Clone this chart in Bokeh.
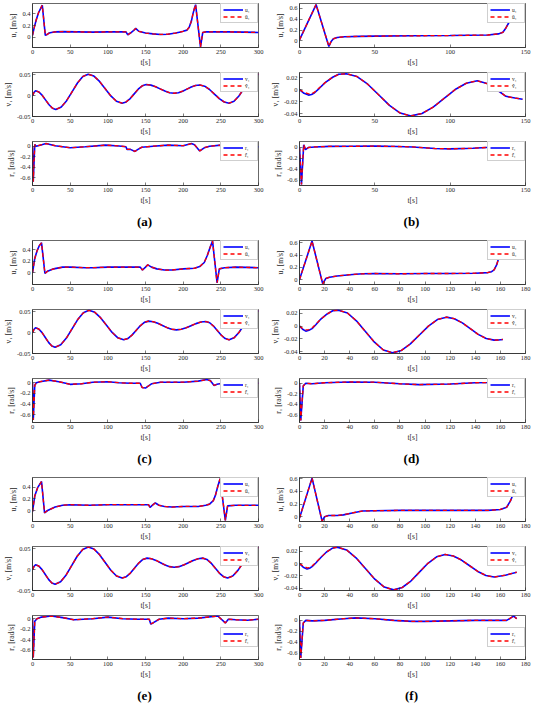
from bokeh.plotting import figure
from bokeh.models import Range1d, FixedTicker, Label
from bokeh.layouts import column, row
from bokeh.embed import file_html
from bokeh.resources import INLINE

FONT = "Liberation Serif"
BLUE = "#0000ff"
RED = "#ff0000"
INK = "#262626"

# ---------------- panel (a) ----------------
UA_T = [0, 2, 5, 8, 11, 13, 17, 20, 22, 25, 30, 40, 60, 80, 100, 120, 124, 126.5, 130, 134, 137, 141, 150, 160, 170, 180, 190, 195, 200, 205, 208, 211, 213, 215, 216.5, 223, 226, 230, 240, 260, 280, 300]
UA = [0.03, 0.15, 0.30, 0.42, 0.50, 0.55, 0.03, 0.05, 0.07, 0.08, 0.09, 0.095, 0.09, 0.085, 0.09, 0.09, 0.09, 0.04, 0.07, 0.11, 0.15, 0.10, 0.07, 0.055, 0.045, 0.05, 0.07, 0.085, 0.10, 0.12, 0.17, 0.28, 0.40, 0.50, 0.56, -0.17, 0.08, 0.09, 0.09, 0.09, 0.085, 0.08]
VA_T = [0, 2, 4, 8.5, 13, 17.5, 22, 26.5, 31, 38.2, 45.3, 52.5, 59.7, 66.8, 74, 81.5, 89, 96.5, 104, 111.5, 119, 124.3, 129.7, 135, 140.3, 145.7, 151, 157.2, 163.3, 169.5, 175.7, 181.8, 188, 193.7, 199.3, 205, 210.7, 216.3, 222, 228.5, 235, 241.5, 248, 254.5, 261, 267.5, 274, 280.5, 287, 293.5, 300]
VA = [0.0, 0.008, 0.012, 0.009, 0.0008, -0.0105, -0.0218, -0.030, -0.033, -0.0273, -0.0118, 0.0095, 0.0308, 0.0463, 0.052, 0.0473, 0.0345, 0.017, -0.0005, -0.0133, -0.018, -0.015, -0.0068, 0.0045, 0.0158, 0.024, 0.027, 0.0256, 0.0218, 0.0165, 0.0113, 0.0074, 0.006, 0.0073, 0.011, 0.016, 0.021, 0.0247, 0.026, 0.0231, 0.015, 0.004, -0.007, -0.015, -0.018, -0.0133, -0.0005, 0.017, 0.0345, 0.0473, 0.052]
RA_T = [0, 1, 3, 5, 10, 18, 30, 50, 70, 97, 115, 124, 125.5, 130, 136, 140, 145, 160, 180, 200, 211, 215, 222, 228, 235, 250, 270, 290, 300]
RA = [0.0, -0.68, 0.03, 0.0, 0.02, 0.05, 0.01, -0.03, -0.01, 0.02, 0.005, -0.01, -0.06, -0.06, -0.10, -0.06, -0.02, 0.0, 0.02, 0.01, 0.05, 0.03, -0.09, -0.03, 0.0, 0.02, 0.0, -0.02, -0.01]

# ---------------- panel (b) ----------------
UB_T = [0, 11, 19.5, 21, 22.5, 25, 30, 40, 50, 75, 100, 125, 132, 135, 137, 139, 140.5, 142]
UB = [0.02, 0.67, -0.10, -0.01, 0.04, 0.065, 0.078, 0.085, 0.09, 0.095, 0.10, 0.11, 0.13, 0.16, 0.24, 0.34, 0.44, 0.52]
VB_T = [0, 3, 6, 8, 10, 13, 17, 22, 26, 31, 38.2, 45.3, 52.5, 59.7, 66.8, 74, 81.3, 88.7, 96, 103.3, 110.7, 118, 125, 131, 137, 143, 148]
VB = [0.0, -0.006, -0.009, -0.008, -0.005, 0.002, 0.012, 0.021, 0.026, 0.027, 0.0222, 0.0093, -0.0085, -0.0263, -0.0392, -0.044, -0.040, -0.0293, -0.0145, 0.0003, 0.011, 0.015, 0.010, 0.0, -0.011, -0.014, -0.016]
VB_HAT = [0.0, -0.004, -0.007, -0.007, -0.004, 0.003, 0.012, 0.021, 0.026, 0.027, 0.0222, 0.0093, -0.0085, -0.0263, -0.0392, -0.044, -0.040, -0.0293, -0.0145, 0.0003, 0.011, 0.015, 0.010, 0.0, -0.011, -0.014, -0.016]
RB_T = [0, 1.3, 2.8, 4, 6, 10, 20, 35, 50, 65, 75, 90, 100, 115, 130, 137, 140, 143, 145]
RB = [0.0, -0.68, 0.05, -0.04, 0.0, 0.01, 0.02, 0.022, 0.025, 0.018, 0.01, -0.02, -0.025, -0.015, 0.01, 0.02, 0.08, 0.03, 0.02]

# ---------------- panel (c) ----------------
UC_T = [0, 3, 6, 9, 12, 16.5, 20, 28, 40, 50, 70, 80, 100, 120, 143, 146, 150, 153, 158, 165, 175, 185, 200, 215, 222, 228, 232, 236, 239, 245, 248, 255, 270, 300]
UC = [0.0, 0.25, 0.38, 0.47, 0.52, -0.01, 0.03, 0.07, 0.10, 0.10, 0.09, 0.09, 0.10, 0.10, 0.10, 0.05, 0.10, 0.14, 0.10, 0.07, 0.05, 0.05, 0.07, 0.08, 0.11, 0.18, 0.30, 0.45, 0.55, -0.17, 0.07, 0.09, 0.10, 0.09]
VC_T = [0, 2, 4, 8.3, 12.7, 17, 21.3, 25.7, 30, 37.5, 45, 52.5, 60, 67.5, 75, 82.7, 90.3, 98, 105.7, 113.3, 121, 126.5, 132, 137.5, 143, 148.5, 154, 160.2, 166.3, 172.5, 178.7, 184.8, 191, 197.5, 204, 210.5, 217, 223.5, 230, 235.2, 240.3, 245.5, 250.7, 255.8, 261, 267.5, 274, 280.5, 287, 293.5, 300]
VC = [0.0, 0.008, 0.012, 0.0089, 0.0003, -0.0115, -0.0233, -0.0319, -0.035, -0.029, -0.0128, 0.0095, 0.0318, 0.048, 0.054, 0.0492, 0.0363, 0.0185, 0.0008, -0.0122, -0.017, -0.014, -0.0058, 0.0055, 0.0168, 0.025, 0.028, 0.0266, 0.0228, 0.0175, 0.0123, 0.0084, 0.007, 0.0083, 0.012, 0.017, 0.022, 0.0257, 0.027, 0.0241, 0.016, 0.005, -0.006, -0.014, -0.017, -0.0123, 0.0005, 0.018, 0.0355, 0.0483, 0.053]
RC_T = [0, 1, 3, 5, 10, 22, 35, 50, 65, 80, 100, 115, 130, 143, 145.5, 150, 153, 158, 170, 185, 200, 220, 231, 236, 241, 245, 255, 270, 285, 300]
RC = [0.0, -0.70, -0.05, 0.0, 0.02, 0.05, 0.02, -0.03, -0.02, 0.01, 0.02, 0.0, -0.01, -0.01, -0.09, -0.10, -0.07, -0.02, 0.01, 0.01, 0.01, 0.03, 0.06, 0.04, -0.05, -0.03, 0.0, -0.01, -0.02, -0.01]

# ---------------- panel (d) ----------------
UD_T = [0, 10, 18.5, 21, 24, 30, 40, 50, 60, 80, 100, 120, 140, 150, 153, 155, 157, 158.5, 160]
UD = [0.0, 0.63, -0.07, 0.02, 0.04, 0.06, 0.08, 0.095, 0.10, 0.095, 0.10, 0.10, 0.105, 0.115, 0.13, 0.16, 0.24, 0.34, 0.45]
VD_T = [0, 2.5, 5, 7.5, 10, 13, 17, 22, 26.5, 31, 38.2, 45.3, 52.5, 59.7, 66.8, 74, 81.2, 88.3, 95.5, 102.7, 109.8, 117, 123.3, 129.7, 136, 142.3, 148.7, 155, 158.5, 162]
VD = [0.0, -0.005, -0.008, -0.0065, -0.004, 0.002, 0.011, 0.019, 0.024, 0.025, 0.0205, 0.0083, -0.0085, -0.0253, -0.0375, -0.042, -0.0382, -0.028, -0.014, 0.0, 0.0102, 0.014, 0.0116, 0.005, -0.004, -0.013, -0.0196, -0.022, -0.0218, -0.021]
VD_HAT = [0.0, -0.004, -0.006, -0.0055, -0.003, 0.003, 0.011, 0.019, 0.024, 0.025, 0.0205, 0.0083, -0.0085, -0.0253, -0.0375, -0.042, -0.0382, -0.028, -0.014, 0.0, 0.0102, 0.014, 0.0116, 0.005, -0.004, -0.013, -0.0196, -0.022, -0.0218, -0.021]
RD_T = [0, 1, 3, 5, 10, 20, 40, 60, 80, 95, 120, 140, 155, 158, 160, 162, 163]
RD = [0.0, -0.70, -0.05, 0.0, -0.01, 0.01, 0.025, 0.02, -0.01, -0.025, -0.015, 0.01, 0.015, 0.04, 0.08, 0.04, 0.02]

# ---------------- panel (e) ----------------
UE_T = [0, 3, 7, 12, 16, 20, 30, 40, 50, 75, 100, 150, 154, 156, 160, 163, 168, 175, 185, 200, 220, 230, 235, 240, 243, 246, 249, 256, 259, 270, 300]
UE = [-0.02, 0.25, 0.40, 0.50, -0.04, 0.0, 0.06, 0.09, 0.10, 0.09, 0.10, 0.10, 0.10, 0.055, 0.10, 0.13, 0.09, 0.07, 0.06, 0.07, 0.07, 0.09, 0.11, 0.17, 0.27, 0.42, 0.55, -0.17, 0.08, 0.09, 0.09]
VE_T = [0, 2, 4, 8.3, 12.7, 17, 21.3, 25.7, 30, 37.3, 44.7, 52, 59.3, 66.7, 74, 81.5, 89, 96.5, 104, 111.5, 119, 124.5, 130, 135.5, 141, 146.5, 152, 158, 164, 170, 176, 182, 188, 194.3, 200.7, 207, 213.3, 219.7, 226, 231.5, 237, 242.5, 248, 253.5, 259, 265.8, 272.7, 279.5, 286.3, 293.2, 300]
VE = [0.0, 0.008, 0.012, 0.0089, 0.0003, -0.0115, -0.0233, -0.0319, -0.035, -0.029, -0.0125, 0.010, 0.0325, 0.049, 0.055, 0.050, 0.0363, 0.0175, -0.0013, -0.015, -0.020, -0.0168, -0.008, 0.004, 0.016, 0.0248, 0.028, 0.0265, 0.0225, 0.017, 0.0115, 0.0075, 0.006, 0.0075, 0.0115, 0.017, 0.0225, 0.0265, 0.028, 0.0248, 0.016, 0.004, -0.008, -0.0168, -0.020, -0.015, -0.0015, 0.017, 0.0355, 0.049, 0.054]
RE_T = [0, 1, 3, 6, 12, 25, 40, 55, 80, 100, 120, 140, 155, 157, 160, 168, 180, 200, 220, 240, 246, 256, 260, 270, 285, 300]
RE = [0.0, -0.73, -0.05, 0.0, 0.03, 0.05, 0.02, -0.02, 0.0, 0.03, 0.0, -0.01, -0.01, -0.10, -0.08, -0.01, 0.01, 0.0, 0.01, 0.04, 0.05, -0.08, -0.01, -0.02, -0.03, -0.01]

# ---------------- panel (f) ----------------
UF_T = [0, 10, 18, 20, 23, 30, 35, 42, 50, 60, 80, 120, 150, 160, 165, 168, 171, 174]
UF = [-0.02, 0.61, -0.07, 0.0, 0.02, 0.02, 0.03, 0.06, 0.09, 0.095, 0.10, 0.10, 0.10, 0.115, 0.15, 0.25, 0.40, 0.55]
VF_T = [0, 3, 6, 8, 10, 13, 17, 21.5, 26, 30, 37.5, 45, 52.5, 60, 67.5, 75, 81.8, 88.7, 95.5, 102.3, 109.2, 116, 122.5, 129, 135.5, 142, 148.5, 155, 164, 173]
VF = [0.0, -0.006, -0.009, -0.0075, -0.005, 0.001, 0.010, 0.019, 0.025, 0.027, 0.0223, 0.0095, -0.008, -0.0255, -0.0383, -0.043, -0.0391, -0.0285, -0.014, 0.0005, 0.0111, 0.015, 0.0125, 0.0058, -0.0035, -0.0128, -0.0195, -0.022, -0.019, -0.014]
VF_HAT = [0.0, -0.004, -0.007, -0.0065, -0.004, 0.002, 0.010, 0.019, 0.025, 0.027, 0.0223, 0.0095, -0.008, -0.0255, -0.0383, -0.043, -0.0391, -0.0285, -0.014, 0.0005, 0.0111, 0.015, 0.0125, 0.0058, -0.0035, -0.0128, -0.0195, -0.022, -0.019, -0.014]
RF_T = [0, 1, 3, 5, 10, 20, 35, 45, 60, 75, 90, 100, 120, 140, 165, 168, 170.5, 173]
RF = [0.0, -0.70, -0.05, 0.0, -0.01, 0.0, 0.03, 0.045, 0.03, 0.0, -0.02, -0.02, -0.01, 0.0, 0.0, 0.04, 0.08, 0.03]

# ---------------- axes settings ----------------
X_TICKS_300 = [0, 50, 100, 150, 200, 250, 300]
X_TICKS_150 = [0, 50, 100, 150]
X_TICKS_180 = [0, 20, 40, 60, 80, 100, 120, 140, 160, 180]
U_TICKS_A = [0, 0.2, 0.4]
U_TICKS_B = [0, 0.2, 0.4, 0.6]
V_TICKS_A = [-0.05, 0, 0.05]
V_TICKS_B = [-0.04, -0.02, 0, 0.02]
R_TICKS = [-0.6, -0.4, -0.2, 0]

U_LABEL = "u\u2081 [m/s]"
V_LABEL = "v\u2081 [m/s]"
R_LABEL = "r\u2081 [rad/s]"
U_NAMES = ["u\u2081", "\u00fb\u2081"]
V_NAMES = ["v\u2081", "v\u0302\u2081"]
R_NAMES = ["r\u2081", "r\u0302\u2081"]
X_LABEL = "t[s]"


def fmt(v):
    return "%g" % v


def sub_fig(t, y, th, yh, xr, xt, yr, yt, ylab, names, rb, loc):
    p = figure(frame_width=226, frame_height=44, min_border_left=30,
               min_border_right=rb, min_border_top=3, min_border_bottom=21,
               x_range=Range1d(*xr), y_range=Range1d(*yr),
               toolbar_location=None, output_backend="svg")
    p.line(t, y, line_color=BLUE, line_width=1.6, legend_label=names[0])
    p.line(th, yh, line_color=RED, line_width=1.3, line_dash="4 3",
           legend_label=names[1])
    p.grid.visible = False
    p.outline_line_color = INK
    p.outline_line_width = 0.7
    p.background_fill_color = "white"
    p.border_fill_color = "white"
    p.xaxis.ticker = FixedTicker(ticks=xt)
    p.yaxis.ticker = FixedTicker(ticks=yt)
    p.xaxis.major_label_overrides = {v: fmt(v) for v in xt}
    p.yaxis.major_label_overrides = {v: fmt(v) for v in yt}
    p.xaxis.axis_label = X_LABEL
    p.yaxis.axis_label = ylab
    for ax in (p.xaxis, p.yaxis):
        ax.major_tick_in = 3
        ax.major_tick_out = 0
        ax.minor_tick_line_color = None
        ax.major_tick_line_color = INK
        ax.major_tick_line_width = 0.6
        ax.axis_line_color = INK
        ax.axis_line_width = 0.7
        ax.major_label_text_font = FONT
        ax.major_label_text_font_size = "6.5px"
        ax.major_label_text_color = INK
        ax.major_label_standoff = 2
        ax.axis_label_text_font = FONT
        ax.axis_label_text_font_size = "7.5px"
        ax.axis_label_text_font_style = "normal"
        ax.axis_label_text_color = INK
        ax.axis_label_standoff = 1
    lg = p.legend[0]
    lg.location = loc
    lg.margin = 0
    lg.padding = 2
    lg.spacing = 0
    lg.glyph_width = 20
    lg.glyph_height = 7
    lg.label_height = 7
    lg.label_width = 10
    lg.label_standoff = 2
    lg.label_text_font = FONT
    lg.label_text_font_size = "5.5px"
    lg.label_text_color = INK
    lg.border_line_color = "#a0a0a0"
    lg.border_line_width = 0.6
    lg.background_fill_alpha = 1.0
    return p


def label_fig(text, w):
    p = figure(width=w, height=30, min_border=0, x_range=Range1d(0, 1),
               y_range=Range1d(0, 1), toolbar_location=None,
               output_backend="svg", x_axis_type=None, y_axis_type=None)
    p.grid.visible = False
    p.outline_line_color = None
    p.add_layout(Label(x=0.5, y=0.55, text=text, text_align="center",
                       text_baseline="middle", text_font=FONT,
                       text_font_size="13px", text_font_style="bold",
                       text_color="black"))
    return p


def block(name, u, v, r, xr, xt, uyr, uyt, vyr, vyt, ryr, rloc, rb, w):
    pu = sub_fig(u[0], u[1], u[0], u[1], xr, xt, uyr, uyt, U_LABEL, U_NAMES, rb, "top_right")
    pv = sub_fig(v[0], v[1], v[0], v[2], xr, xt, vyr, vyt, V_LABEL, V_NAMES, rb, "top_right")
    pr = sub_fig(r[0], r[1], r[0], r[1], xr, xt, ryr, R_TICKS, R_LABEL, R_NAMES, rb, rloc)
    return column(pu, pv, pr, label_fig(name, w))


LW, RW = 9, 13
WL, WR = 30 + 226 + LW, 30 + 226 + RW

ba = block("(a)", (UA_T, UA), (VA_T, VA, VA), (RA_T, RA), (0, 300), X_TICKS_300,
           (-0.18, 0.58), U_TICKS_A, (-0.05, 0.056), V_TICKS_A, (-0.75, 0.09), "top_right", LW, WL)
bb = block("(b)", (UB_T, UB), (VB_T, VB, VB_HAT), (RB_T, RB), (0, 150), X_TICKS_150,
           (-0.12, 0.69), U_TICKS_B, (-0.045, 0.029), V_TICKS_B, (-0.70, 0.11), "top_right", RW, WR)
bc = block("(c)", (UC_T, UC), (VC_T, VC, VC), (RC_T, RC), (0, 300), X_TICKS_300,
           (-0.20, 0.56), U_TICKS_A, (-0.05, 0.056), V_TICKS_A, (-0.75, 0.08), "top_right", LW, WL)
bd = block("(d)", (UD_T, UD), (VD_T, VD, VD_HAT), (RD_T, RD), (0, 180), X_TICKS_180,
           (-0.08, 0.64), U_TICKS_B, (-0.043, 0.026), V_TICKS_B, (-0.74, 0.09), "top_right", RW, WR)
be = block("(e)", (UE_T, UE), (VE_T, VE, VE), (RE_T, RE), (0, 300), X_TICKS_300,
           (-0.19, 0.57), U_TICKS_A, (-0.05, 0.056), V_TICKS_A, (-0.77, 0.06), "right", LW, WL)
bf = block("(f)", (UF_T, UF), (VF_T, VF, VF_HAT), (RF_T, RF), (0, 180), X_TICKS_180,
           (-0.075, 0.62), U_TICKS_B, (-0.044, 0.028), V_TICKS_B, (-0.73, 0.09), "right", RW, WR)

layout = column(row(ba, bb), row(bc, bd), row(be, bf))

open("out.html", "w").write(file_html(layout, INLINE))
